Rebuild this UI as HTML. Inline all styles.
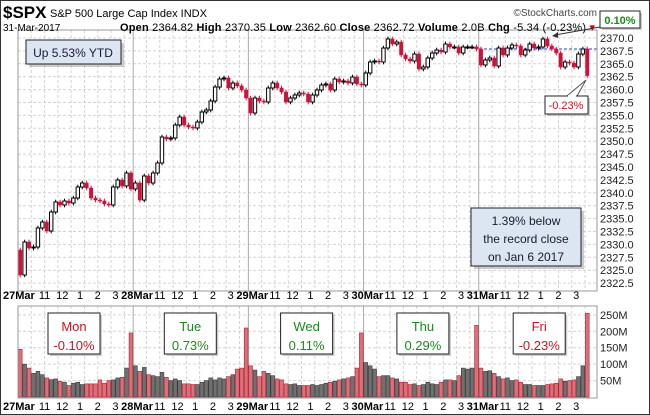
<!DOCTYPE html>
<html><head><meta charset="utf-8"><style>
body{margin:0;background:#fff;font-family:"Liberation Sans",sans-serif}
#wrap{position:relative;width:650px;height:415px;overflow:hidden;background:#fff}
svg text{font-family:"Liberation Sans",sans-serif}
</style></head><body>
<div id="wrap">
<svg id="chart" width="650" height="415" xmlns="http://www.w3.org/2000/svg">
<rect x="0.5" y="0.5" width="649" height="414" fill="#fff" stroke="#333"/>
<g id="grid"></g>
<g id="vgrid"></g>
<line x1="479" y1="49" x2="597" y2="49" stroke="#1f3fd0" stroke-dasharray="3,2"/>
<g id="candles"></g>
<g id="vols"></g>
<rect x="18" y="30" width="579" height="261" fill="none" stroke="#999"/>
<rect x="18" y="306" width="579" height="92" fill="none" stroke="#999"/>
<g id="yaxis"></g>
<g id="xaxis"></g>
<text x="3" y="18" font-size="17" font-weight="bold">$SPX</text>
<text x="50" y="17" font-size="11">S&amp;P 500 Large Cap Index  INDX</text>
<text x="3" y="31" font-size="10">31-Mar-2017</text>
<text x="120" y="31" font-size="11" textLength="475" lengthAdjust="spacing"><tspan font-weight="bold">Open</tspan> 2364.82 <tspan font-weight="bold">High</tspan> 2370.35 <tspan font-weight="bold">Low</tspan> 2362.60 <tspan font-weight="bold">Close</tspan> 2362.72 <tspan font-weight="bold">Volume</tspan> 2.0B <tspan font-weight="bold">Chg</tspan> -5.34 (-0.23%) <tspan fill="#c00">▾</tspan></text>
<text x="597" y="16" font-size="10" text-anchor="end" fill="#444">©StockCharts.com</text>
<g>
<rect x="29" y="43" width="95" height="24" fill="#999" opacity=".5"/>
<rect x="26" y="40" width="95" height="24" fill="#dce6f2" stroke="#222"/>
<text x="73" y="57" font-size="12" text-anchor="middle" fill="#1a1a2e">Up 5.53% YTD</text></g>
<g>
<rect x="474" y="211" width="110" height="58" fill="#999" opacity=".5"/>
<rect x="471" y="208" width="110" height="58" fill="#dce6f2" stroke="#222"/>
<text x="526" y="225" font-size="12" text-anchor="middle" fill="#1a1a2e">1.39% below</text>
<text x="526" y="243" font-size="12" text-anchor="middle" fill="#1a1a2e">the record close</text>
<text x="526" y="261" font-size="12" text-anchor="middle" fill="#1a1a2e">on Jan 6 2017</text></g>
<g>
<line x1="600" y1="27" x2="555" y2="35" stroke="#333"/>
<polygon points="552,36 558,32 558,38" fill="#333"/>
<rect x="602" y="13" width="40" height="17" fill="#999" opacity=".5"/>
<rect x="600" y="11" width="40" height="17" fill="#fff" stroke="#222"/>
<text x="620" y="24" font-size="11" font-weight="bold" text-anchor="middle" fill="#1a8a1a">0.10%</text></g>
<g>
<polygon points="567,96 586,80 577,96" fill="#fff" stroke="#555"/>
<rect x="547" y="98" width="43" height="18" fill="#999" opacity=".5"/>
<rect x="545" y="96" width="43" height="18" fill="#fff" stroke="#222"/>
<line x1="568" y1="96" x2="576" y2="96" stroke="#fff" stroke-width="2"/>
<text x="566" y="109" font-size="11" text-anchor="middle" fill="#d01020">-0.23%</text></g>
<g id="dayboxes"></g>
</svg>
</div>
<script>
const closes=[2324.07,2330.46,2329.30,2329.49,2333.18,2334.34,2332.60,2336.28,2338.22,2337.64,2338.41,2338.02,2338.99,2341.12,2341.90,2340.93,2338.99,2338.60,2338.41,2337.83,2337.64,2341.12,2342.48,2341.32,2343.84,2340.74,
2341.90,2338.60,2343.26,2341.90,2343.84,2345.78,2350.81,2350.43,2350.62,2353.14,2354.69,2353.14,2352.75,2352.56,2353.72,2355.66,2356.05,2357.79,2360.50,2362.05,2362.25,2360.31,2361.28,2360.70,2359.92,2358.37,
2355.47,2358.37,2357.79,2357.60,2360.31,2361.28,2360.31,2359.53,2357.60,2358.37,2358.95,2359.34,2359.15,2357.60,2358.95,2359.92,2360.89,2361.09,2359.92,2362.05,2361.47,2361.67,2361.28,2362.44,2361.09,2360.89,
2363.22,2365.35,2365.54,2365.35,2368.06,2369.81,2368.84,2369.22,2366.71,2365.93,2365.54,2366.90,2363.99,2364.38,2366.12,2367.09,2367.67,2367.29,2368.84,2368.26,2368.26,2367.09,2368.26,2368.26,2368.26,2367.87,
2364.77,2365.74,2366.12,2364.57,2368.06,2366.71,2368.06,2368.64,2368.45,2366.71,2367.67,2368.84,2368.06,2368.26,2369.81,2368.45,2367.87,2367.09,2364.38,2365.35,2365.15,2364.38,2366.90,2367.87,2362.72];
const firstOpen=2328.91;
const volumes=[145,100,88,72,78,68,58,53,55,48,45,35,42,45,38,40,40,40,52,42,50,52,58,60,88,195,
95,78,90,68,65,62,75,60,50,55,50,40,40,38,38,45,50,58,52,58,55,62,68,85,88,210,
95,82,62,78,72,65,55,52,40,38,40,35,35,35,38,35,38,42,45,48,52,55,58,62,88,195,
105,95,85,62,65,65,58,55,45,45,38,40,35,38,45,40,38,45,52,52,50,65,88,85,88,218,
88,78,80,72,62,55,58,50,52,45,38,38,35,35,35,38,40,42,55,48,50,52,62,95,255];
const priceTicks=[2370,2367.5,2365,2362.5,2360,2357.5,2355,2352.5,2350,2347.5,2345,2342.5,2340,2337.5,2335,2332.5,2330,2327.5,2325,2322.5];
const volTicks=[50,100,150,200,250];
const dayLabels=["27Mar","28Mar","29Mar","30Mar","31Mar"];
const hourLabels=["11","12","1","2","3"];
const dayNames=["Mon","Tue","Wed","Thu","Fri"];
const dayChanges=["-0.10%","0.73%","0.11%","0.29%","-0.23%"];

const NS="http://www.w3.org/2000/svg";
const X0=18,BW=4.43,BPD=26;
const xOf=i=>X0+BW*(i+0.5);
const yP=p=>38+(2370-p)/2.5*12.9;
const yV=m=>397-m*0.3285;
function mk(tag,attrs,parent){const e=document.createElementNS(NS,tag);for(const k in attrs)e.setAttribute(k,attrs[k]);document.getElementById(parent).appendChild(e);return e;}

priceTicks.forEach(p=>{
  const l=mk('line',{x1:18,x2:597,y1:yP(p),y2:yP(p),stroke:'#d4d4d4','stroke-dasharray':'3,2'},'grid');
  
  
  const t=mk('text',{x:600,y:yP(p)+4,'font-size':11,fill:'#222'},'yaxis');
  t.textContent=p.toFixed(1);
  
  
});
volTicks.forEach(v=>{
  const l=mk('line',{x1:18,x2:597,y1:yV(v),y2:yV(v),stroke:'#d4d4d4','stroke-dasharray':'3,2'},'grid');
  
  
  const t=mk('text',{x:600,y:yV(v)+4,'font-size':11,fill:'#222'},'yaxis');
  t.textContent=v+'M';
  
  
});
for(let d=0;d<5;d++){
  const base=X0+BW*BPD*d;
  for(let k=0;k<BPD;k+=3){
    const x=base+BW*k;
    const l=mk('line',{x1:x,x2:x,y1:30,y2:291,stroke:k?'#d4d4d4':'#aaa','stroke-dasharray':k?'3,2':'none'},'vgrid');
    
    
    const l2=mk('line',{x1:x,x2:x,y1:306,y2:398,stroke:k?'#d4d4d4':'#aaa','stroke-dasharray':k?'3,2':'none'},'vgrid');
    
    
  }
  [299,410].forEach(ty=>{
    const t=mk('text',{x:d?base-12:3,y:ty,'font-size':11,'font-weight':'bold'},'xaxis');
    t.textContent=dayLabels[d];
    
    
    hourLabels.forEach((h,j)=>{
      const hx=base+BW*(6+4*j);
      const ht=mk('text',{x:hx,y:ty,'font-size':11,'text-anchor':'middle'},'xaxis');
      ht.textContent=h;
      
      
    });
  });
  const bx=48+116.3*d;
  const g=mk('g',{},'dayboxes');
  
  
  const up=!dayChanges[d].startsWith('-');
  const col=up?'#1a8a1a':'#d01020';
  const s=document.createElementNS(NS,'rect');
  [['x',bx+2],['y',315],['width',52],['height',41],['fill','#999'],['opacity','.5']].forEach(a=>s.setAttribute(a[0],a[1]));g.appendChild(s);
  const r=document.createElementNS(NS,'rect');
  [['x',bx],['y',313],['width',52],['height',41],['fill','#fff'],['stroke','#222']].forEach(a=>r.setAttribute(a[0],a[1]));g.appendChild(r);
  [[dayNames[d],331],[dayChanges[d],350]].forEach(p=>{const t=document.createElementNS(NS,'text');t.setAttribute('x',bx+26);t.setAttribute('y',p[1]);t.setAttribute('font-size',13);t.setAttribute('text-anchor','middle');t.setAttribute('fill',col);t.textContent=p[0];g.appendChild(t);});
}
closes.forEach((c,i)=>{
  const o=i?closes[i-1]:firstOpen;
  const up=c>=o;
  const hi=Math.max(o,c)+0.45,lo=Math.min(o,c)-0.45;
  const x=xOf(i);
  const col=up?'#000':'#d0103a';
  const w=mk('line',{x1:x,x2:x,y1:yP(hi),y2:yP(lo),stroke:col},'candles');
  
  
  const top=yP(Math.max(o,c)),h=Math.max(1,yP(Math.min(o,c))-top);
  const b=mk('rect',{x:x-1.7,y:top,width:3.4,height:h,fill:up?'#fff':'#d0103a',stroke:col,'stroke-width':up?1:0.5},'candles');
  
  
  const v=volumes[i];
  const vb=mk('rect',{x:x-1.9,y:yV(v),width:3.8,height:397-yV(v),fill:up?'#707070':'#d9707a',stroke:up?'#3a3a3a':'#b02030','stroke-width':0.6},'vols');
  
  
});
</script>
</body></html>
